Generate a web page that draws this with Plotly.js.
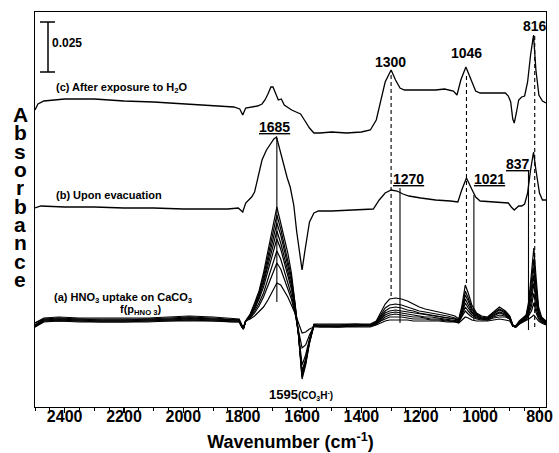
<!DOCTYPE html>
<html>
<head>
<meta charset="utf-8">
<script src="https://cdn.plot.ly/plotly-3.0.1.min.js"></script>
<style>html,body{margin:0;padding:0;background:#fff;}#chart{width:559px;height:453px;}</style>
</head>
<body>
<div id="chart"></div>
<script>
// ---------- DATA (absorbance in mAbs, offset spectra as drawn) ----------
const tickValues = [2400, 2200, 2000, 1800, 1600, 1400, 1200, 1000, 800];

// (c) After exposure to H2O
const wnC = [2500,2490,2470,2400,2300,2200,2100,2000,1900,1830,1810,1800,1790,1770,1750,1735,1725,1715,1705,1698,1690,1680,1670,1660,1645,1635,1620,1605,1590,1575,1560,1540,1500,1450,1400,1370,1350,1335,1320,1300,1285,1270,1255,1200,1150,1120,1090,1078,1065,1048,1030,1015,1000,950,915,905,897,890,885,878,870,860,850,840,830,820,812,802,790,778];
const absC = [148.5,151.5,153,154,154,153,152.5,151.5,150.5,150,149,146,149.5,150,150.5,151.5,153.5,156.5,160,160,157,153.5,154,151,149.5,148.5,147.5,146.5,143,139.5,137,137,137.5,137,137.5,138.5,143.5,153.5,162.5,168.5,163.5,159.5,158.5,158.5,158.5,159,158,156,163.5,170,163.5,158,157,157,157,155.5,152.5,144,142,147,153.5,155,155.5,162.5,176,186,168.5,156,153,152];

// (b) Upon evacuation
const wnB = [2500,2480,2400,2300,2200,2100,2000,1900,1850,1815,1800,1790,1770,1760,1745,1735,1720,1705,1695,1686,1675,1660,1650,1640,1628,1618,1600,1590,1575,1560,1545,1500,1400,1360,1340,1320,1300,1280,1260,1240,1200,1150,1100,1075,1062,1046,1030,1015,1000,950,905,895,885,870,860,850,840,830,820,812,800,790,778];
const absB = [99.5,100.5,100,100,99.5,99.5,99,99,99,99.5,97.5,102,105,107.5,117.5,123.5,128.5,132,134,135,128.5,121,114.5,110,101,87.5,68.5,78.5,92.5,97,98,98,98.5,99,103.5,107,108.5,108,106.5,105.5,104.5,103.5,103,102.5,108.5,114.5,109.5,105,103,102.5,102,100,98.5,100.5,100.5,101.5,107,118.5,127.5,118.5,107,103.5,103.5];

// (a) HNO3 uptake on CaCO3 as a function of p(HNO3)
const wnA = [2500,2470,2420,2350,2280,2200,2120,2050,1980,1900,1840,1812,1803,1798,1790,1775,1760,1745,1730,1715,1700,1685,1672,1660,1648,1636,1624,1612,1600,1588,1575,1560,1540,1480,1420,1370,1350,1335,1320,1305,1285,1265,1245,1225,1205,1185,1165,1140,1110,1085,1072,1062,1050,1040,1028,1012,995,975,955,935,915,900,890,880,868,855,845,836,827,819,811,803,793,778];
const absA1 = [42,44.5,45,44.5,44.5,44.5,44.5,45,45.5,45,44.5,44,41,39.5, 43,46.5,52,58,67,78,89,100,92,84,77,67,53,37,15,22,33,41.5, 41.5,41.5,41.5, 41.5,43,47,51.5,54,54.5,54,53,51.5,50,49,48.5,47.5,46.5,45.5,44, 50,61,57,51,47,45.5,45,47.5,50,48,45.5,41,40.5,43,44.5,46,53,66,79.5,64,50,45,43];
const absA2 = [42,44,44.5,44,44,44,44,44.5,45,44.5,44,43.5,41,39.5, 43,46,51,57,65,75,86,96,89,81,74,65,52,36,14,21,32,41, 41,41,41.5, 41,42.5,46,49.5,51,51.5,51,50,49,48,47.5,47,46,45.5,44.5,43.5, 48.5,58,54.5,49.5,46.5,45,44.5,47,49,47.5,45,41,40.5,42.5,44,45.5,51,62,74,60,48.5,44.5,42.5];
const absA3 = [41,44,44,44,43.5,43.5,44,44,44.5,44,44,43.5,40.5,39.5, 43,46,50,56,63,73,83,92,86,78,71,63,51,36,15.5,22,32,41, 41,41,41, 41,42.5,45,48,49.5,50,49.5,48.5,48,47,46.5,46,45.5,45,44,43.5, 48,56,53,48.5,46,44.5,44.5,46.5,48.5,47,45,41,40.5,42.5,44,45,50,59,70,57,47.5,44,42.5];
const absA4 = [41,43.5,44,43.5,43.5,43.5,43.5,44,44.5,44,43.5,43.5,40.5,39, 43,45.5,49.5,55,62,71,80,88,82,75,68,61,50,36,17,23,33,41, 40.5,40.5,41, 41,42,44.5,47,48,48.5,48,47.5,47,46.5,46,45.5,45,44.5,44,43, 47,54,51,47.5,45.5,44.5,44,46,47.5,46.5,44.5,40.5,40,42,43.5,44.5,48.5,56,66,54,47,44,42];
const absA5 = [40.5,43.5,43.5,43.5,43,43,43.5,43.5,44,43.5,43.5,43,40.5,39, 43,45.5,49,54,60,68,77,84,79,72,66,59,49,36,18,24,33,41, 40.5,40.5,40.5, 41,42,44,46,47,47.5,47,46.5,46,45.5,45,45,44.5,44,43.5,43, 46.5,52,49.5,47,45,44,44,45.5,47,46,44.5,40.5,40,42,43.5,44.5,47.5,53,62,52,46,43.5,42];
const absA6 = [40.5,43,43.5,43,43,43,43,43.5,43.5,43.5,43,43,40,39, 43,45,48,52,57,64,72,78,74,68,62,56,48,37,21,26,34,41, 40.5,40,40.5, 40.5,41.5,43.5,45,46,46.5,46,45.5,45,45,44.5,44,44,43.5,43,42.5, 45.5,50,48,46,44.5,44,43.5,45,46,45.5,44,40.5,40,42,43,44,46.5,50.5,57,49,45,43,41.5];
const absA7 = [40,43,43,43,42.5,42.5,43,43,43.5,43,43,42.5,40,39, 43,44.5,47,50.5,55,61,67,72,69,64,59,54,47,39,29.5,31,36,40.5, 40,40,40.5, 40.5,41.5,43,44,45,45,45,44.5,44,44,44,43.5,43.5,43,42.5,42.5, 45,48,46.5,45,44,43.5,43.5,44.5,45,45,44,40.5,40,41.5,43,43.5,45.5,48,52,47,44,42.5,41.5];
const absA8 = [40,42.5,43,42.5,42.5,42.5,42.5,43,43,43,42.5,42.5,40,39.5, 43,44,45.5,47.5,50,53.5,58,62,61,58,55,51,47,42,37,37.5,39,40, 40,40,40, 40,41,42,43,43.5,43.5,43.5,43.5,43,43,43,43,43,42.5,42.5,42, 43.5,45,44.5,43.5,43,43,43,43.5,44,43.5,43,40.5,40,41.5,42.5,43,44,45,46,44.5,43,42,41];

// Peak marker lines: wavenumber, lower and upper ends (mAbs), dashed?
const markerWn   = [1685, 1300, 1270, 1046, 1021, 837, 816];
const markerLow  = [52.5, 55.5, 42, 62, 43.5, 38.5, 40];
const markerHigh = [134.5, 166, 109.5, 166, 106, 118.5, 186.5];
const markerDash = [false, true, false, true, false, false, true];

// Scale bar value (mAbs) = 0.025 absorbance
const scaleBar = 25;
const scaleBarTop = 192.5;

// ---------- PLOT ----------
const FONT = 'Liberation Sans, Arial, Helvetica, sans-serif';
const L = 35, T = 12, W = 511, H = 395;
function P(x, y) { return {x: (x - L) / W, y: (T + H - y) / H, xref: 'paper', yref: 'paper'}; }

const traces = [];
const aSeries = [absA1, absA2, absA3, absA4, absA5, absA6, absA7, absA8];
aSeries.forEach(s => traces.push({x: wnA, y: s, mode: 'lines', line: {color: '#000', width: 1.2}, hoverinfo: 'skip'}));
traces.push({x: wnB, y: absB, mode: 'lines', line: {color: '#000', width: 1.3}, hoverinfo: 'skip'});
traces.push({x: wnC, y: absC, mode: 'lines', line: {color: '#000', width: 1.3}, hoverinfo: 'skip'});

const shapes = [];
markerWn.forEach((w, i) => shapes.push({type: 'line', xref: 'x', yref: 'y', x0: w, x1: w, y0: markerLow[i], y1: markerHigh[i],
  line: {color: '#000', width: 1.1, dash: markerDash[i] ? '4px,3px' : 'solid'}}));
// scale bar
const sbx = (48 - L) / W, c0 = (40 - L) / W, c1 = (55 - L) / W;
shapes.push({type: 'line', xref: 'paper', yref: 'y', x0: sbx, x1: sbx, y0: scaleBarTop - scaleBar, y1: scaleBarTop, line: {color: '#000', width: 1.5}});
shapes.push({type: 'line', xref: 'paper', yref: 'y', x0: c0, x1: c1, y0: scaleBarTop, y1: scaleBarTop, line: {color: '#000', width: 1.5}});
shapes.push({type: 'line', xref: 'paper', yref: 'y', x0: c0, x1: c1, y0: scaleBarTop - scaleBar, y1: scaleBarTop - scaleBar, line: {color: '#000', width: 1.5}});

function ann(text, x, y, size, opts) {
  return Object.assign(P(x, y), {text: text, showarrow: false, font: {family: FONT, size: size, color: '#000'}, xanchor: 'center', yanchor: 'middle'}, opts || {});
}
const annotations = [
  ann('<b>0.025</b>', 50, 43, 12, {xanchor: 'left'}),
  ann('<b>(c) After exposure to H<sub>2</sub>O</b>', 54, 88, 11, {xanchor: 'left'}),
  ann('<b>(b) Upon evacuation</b>', 54, 195, 11, {xanchor: 'left'}),
  ann('<b>(a) HNO<sub>3</sub> uptake on CaCO<sub>3</sub></b>', 52, 298, 11, {xanchor: 'left'}),
  ann('<b>f(p<sub>HNO 3</sub>)</b>', 141, 310, 11),
  ann('<b><u>1685</u></b>', 274, 127, 14),
  ann('<b>1300</b>', 390, 62, 14),
  ann('<b>1046</b>', 466.5, 53, 14),
  ann('<b>816</b>', 534.5, 26, 14),
  ann('<b><u>1270</u></b>', 408, 179, 14),
  ann('<b><u>1021</u></b>', 489, 179, 14),
  ann('<b><u>837</u></b>', 517.5, 164, 14),
  ann('<b>1595<span style="font-size:10px">(CO<sub>3</sub>H<sup>-</sup>)</span></b>', 301, 394, 13)
];
const letters = 'Absorbance'.split('');
letters.forEach((ch, i) => {
  const base = 121.7 + i * 18.33;
  annotations.push(ann('<b>' + ch + '</b>', 20, base - 7.6, 21, {height: 18, valign: 'middle'}));
});

const layout = {
  width: 559, height: 453,
  margin: {l: L, r: 559 - L - W, t: T, b: 453 - T - H, pad: 0},
  paper_bgcolor: '#fff', plot_bgcolor: '#fff',
  showlegend: false, hovermode: false,
  font: {family: FONT, color: '#000'},
  xaxis: {
    range: [2500, 778], autorange: false,
    tickmode: 'array', tickvals: tickValues, ticktext: tickValues.map(String),
    ticks: 'outside', ticklen: 5, tickwidth: 1.2, tickcolor: '#000',
    ticklabelstandoff: -10,
    minor: {dtick: 50, ticks: 'outside', ticklen: 3, tickwidth: 1, tickcolor: '#000'},
    tickfont: {family: FONT, size: 16, weight: 'bold', color: '#000'},
    showline: true, mirror: true, linecolor: '#000', linewidth: 1.2,
    showgrid: false, zeroline: false,
    title: {text: '<b>Wavenumber (cm<sup>-1</sup>)</b>', font: {family: FONT, size: 18, color: '#000'}, standoff: 11}
  },
  yaxis: {
    range: [0, 197.5], autorange: false,
    showticklabels: false, ticks: '',
    showline: true, mirror: true, linecolor: '#000', linewidth: 1.2,
    showgrid: false, zeroline: false
  },
  shapes: shapes,
  annotations: annotations
};

Plotly.newPlot('chart', traces, layout, {staticPlot: true, displayModeBar: false});
</script>
</body>
</html>
